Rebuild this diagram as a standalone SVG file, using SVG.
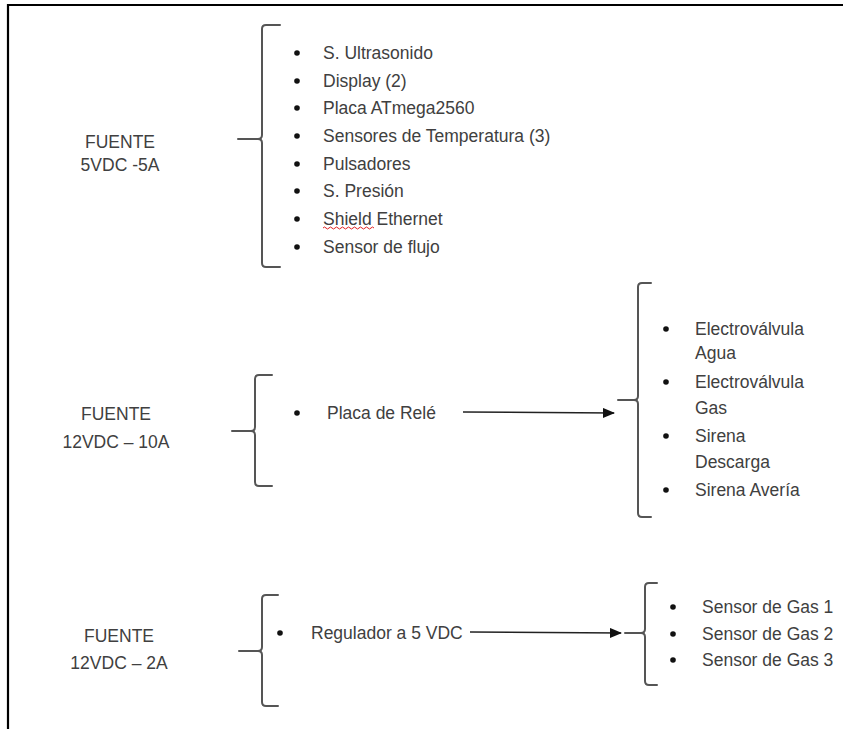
<svg xmlns="http://www.w3.org/2000/svg" width="843" height="729" viewBox="0 0 843 729">
<style>
  .t { font-family: "Liberation Sans", Arial, sans-serif; font-size: 17.5px; fill: #404040; }
  .c { text-anchor: middle; }
  .br { fill: none; stroke: #555; stroke-width: 2; stroke-linecap: round; stroke-linejoin: round; }
  .bul { fill: #111; }
  .arr { stroke: #222; stroke-width: 1.6; fill: none; }
  .frame { stroke: #000; stroke-width: 2.2; fill: none; }
</style>
<defs>
  <marker id="ah" markerWidth="12" markerHeight="10" refX="11" refY="5" orient="auto" markerUnits="userSpaceOnUse">
    <path d="M0,0 L12,5 L0,10 Z" fill="#111"/>
  </marker>
</defs>
<rect width="843" height="729" fill="#fff"/>
<path class="frame" d="M8,729 L8,5 L843,5"/>

<g id="fuente1">
  <text class="t c" x="120" y="148">FUENTE</text>
  <text class="t c" x="120" y="171">5VDC -5A</text>
</g>
<g id="list1">
  <path class="br" d="M280,25 L266,25 Q262,25 262,29 L262,135 Q262,139 258,139 L238,139 M258,139 Q262,139 262,143 L262,263 Q262,267 266,267 L280,267"/>
  <circle class="bul" cx="297" cy="53" r="2.8"/>
  <circle class="bul" cx="297" cy="81" r="2.8"/>
  <circle class="bul" cx="297" cy="108" r="2.8"/>
  <circle class="bul" cx="297" cy="136" r="2.8"/>
  <circle class="bul" cx="297" cy="164" r="2.8"/>
  <circle class="bul" cx="297" cy="191" r="2.8"/>
  <circle class="bul" cx="297" cy="219" r="2.8"/>
  <circle class="bul" cx="297" cy="247" r="2.8"/>
  <text class="t" x="323" y="59">S. Ultrasonido</text>
  <text class="t" x="323" y="87">Display (2)</text>
  <text class="t" x="323" y="114">Placa ATmega2560</text>
  <text class="t" x="323" y="142">Sensores de Temperatura (3)</text>
  <text class="t" x="323" y="170">Pulsadores</text>
  <text class="t" x="323" y="197">S. Presión</text>
  <text class="t" x="323" y="225">Shield Ethernet</text>
  <text class="t" x="323" y="253">Sensor de flujo</text>
  <path d="M323,228 q1.5,-2 3,0 t3,0 t3,0 t3,0 t3,0 t3,0 t3,0 t3,0 t3,0 t3,0 t3,0 t3,0 t3,0 t3,0 t3,0 t3,0 t3,0" fill="none" stroke="#e02020" stroke-width="1"/>
</g>

<g id="fuente2">
  <text class="t c" x="116" y="420">FUENTE</text>
  <text class="t c" x="116" y="448">12VDC – 10A</text>
</g>
<g id="rele">
  <path class="br" d="M272,375 L259,375 Q255,375 255,379 L255,427 Q255,431 251,431 L232,431 M251,431 Q255,431 255,435 L255,482 Q255,486 259,486 L272,486"/>
  <circle class="bul" cx="297" cy="413" r="2.8"/>
  <text class="t" x="327" y="419">Placa de Relé</text>
</g>
<g id="list2">
  <path class="br" d="M651,283 L642,283 Q638,283 638,287 L638,396 Q638,400 634,400 L618,400 M634,400 Q638,400 638,404 L638,513 Q638,517 642,517 L651,517"/>
  <circle class="bul" cx="666" cy="329" r="2.8"/>
  <circle class="bul" cx="666" cy="382" r="2.8"/>
  <circle class="bul" cx="666" cy="436" r="2.8"/>
  <circle class="bul" cx="666" cy="490" r="2.8"/>
  <text class="t" x="695" y="335">Electroválvula</text>
  <text class="t" x="695" y="359">Agua</text>
  <text class="t" x="695" y="388">Electroválvula</text>
  <text class="t" x="695" y="414">Gas</text>
  <text class="t" x="695" y="442">Sirena</text>
  <text class="t" x="695" y="468">Descarga</text>
  <text class="t" x="695" y="496">Sirena Avería</text>
</g>

<g id="fuente3">
  <text class="t c" x="119" y="642">FUENTE</text>
  <text class="t c" x="119" y="669">12VDC – 2A</text>
</g>
<g id="regulador">
  <path class="br" d="M278,595 L266,595 Q262,595 262,599 L262,647 Q262,651 258,651 L239,651 M258,651 Q262,651 262,655 L262,702 Q262,706 266,706 L278,706"/>
  <circle class="bul" cx="280" cy="633" r="2.8"/>
  <text class="t" x="311" y="639">Regulador a 5 VDC</text>
</g>
<g id="list3">
  <path class="br" d="M657,583 L649,583 Q645,583 645,587 L645,629 Q645,633 641,633 L625,633 M641,633 Q645,633 645,637 L645,681 Q645,685 649,685 L657,685"/>
  <circle class="bul" cx="673" cy="607" r="2.8"/>
  <circle class="bul" cx="673" cy="634" r="2.8"/>
  <circle class="bul" cx="673" cy="660" r="2.8"/>
  <text class="t" x="702" y="613">Sensor de Gas 1</text>
  <text class="t" x="702" y="640">Sensor de Gas 2</text>
  <text class="t" x="702" y="666">Sensor de Gas 3</text>
</g>

<g id="connectors">
  <line class="arr" x1="463" y1="412" x2="614" y2="413" marker-end="url(#ah)"/>
  <line class="arr" x1="470" y1="632" x2="621" y2="633" marker-end="url(#ah)"/>
</g>
</svg>
